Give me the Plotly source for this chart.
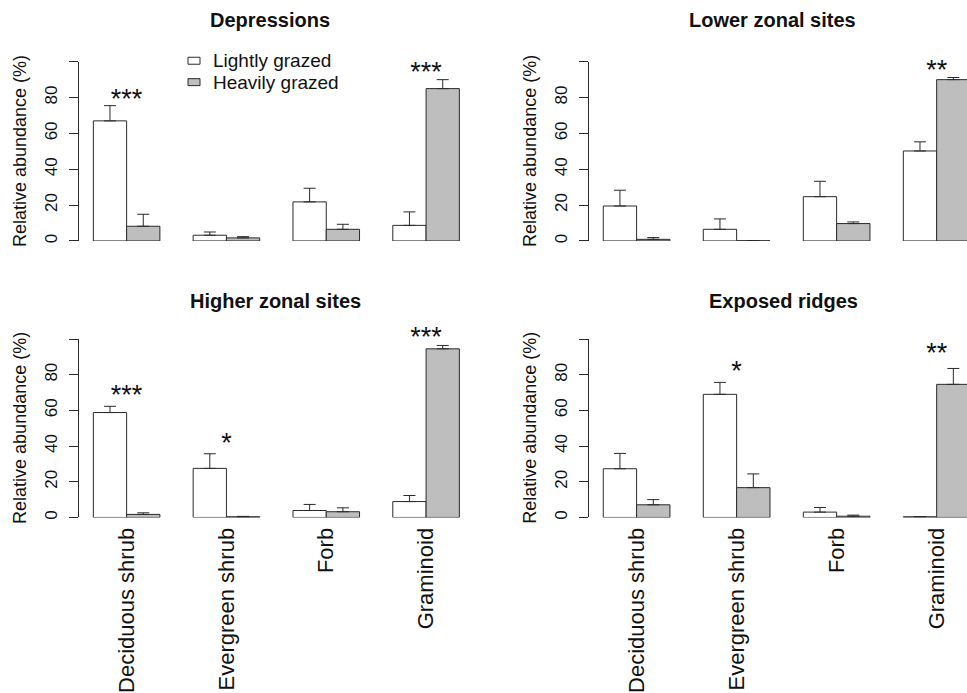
import plotly.graph_objects as go

# ---------------- data ----------------
categories = ["Deciduous shrub", "Evergreen shrub", "Forb", "Graminoid"]
panel_titles = ["Depressions", "Lower zonal sites", "Higher zonal sites", "Exposed ridges"]
legend_labels = ["Lightly grazed", "Heavily grazed"]
y_ticks = [0, 20, 40, 60, 80, 100]
y_ticktext = ["0", "20", "40", "60", "80", ""]

dep_light = [67.0, 3.2, 21.8, 8.7]
dep_light_se = [8.5, 1.8, 7.6, 7.5]
dep_heavy = [8.2, 1.7, 6.5, 85.0]
dep_heavy_se = [6.7, 0.7, 2.8, 5.0]
dep_stars = ["***", "", "", "***"]
dep_star_y = [78.0, None, None, 93.0]

low_light = [19.5, 6.5, 24.7, 50.2]
low_light_se = [8.8, 5.8, 8.6, 5.1]
low_heavy = [0.9, 0.1, 9.7, 90.0]
low_heavy_se = [1.0, 0.0, 0.9, 1.2]
low_stars = ["", "", "", "**"]
low_star_y = [None, None, None, 94.3]

high_light = [58.8, 27.5, 3.9, 8.9]
high_light_se = [3.5, 8.2, 3.4, 3.4]
high_heavy = [1.7, 0.4, 3.2, 94.5]
high_heavy_se = [0.9, 0.2, 2.2, 1.9]
high_stars = ["***", "*", "", "***"]
high_star_y = [67.5, 40.4, None, 100.0]

exp_light = [27.3, 69.0, 3.0, 0.4]
exp_light_se = [8.6, 6.7, 2.6, 0.1]
exp_heavy = [7.1, 16.7, 0.7, 74.6]
exp_heavy_se = [2.9, 7.7, 0.6, 8.9]
exp_stars = ["", "*", "", "**"]
exp_star_y = [None, 81.0, None, 90.8]

# ---------------- layout helpers ----------------
W, H = 967, 693
FONT = "Liberation Sans, Arial, Helvetica, sans-serif"
LINE = "#2a2a2a"
GRAY = "#BEBEBE"


def px_x(p):
    return p / W


def px_y(p):
    return (H - p) / H


panels = [
    (dep_light, dep_light_se, dep_heavy, dep_heavy_se, dep_stars, dep_star_y),
    (low_light, low_light_se, low_heavy, low_heavy_se, low_stars, low_star_y),
    (high_light, high_light_se, high_heavy, high_heavy_se, high_stars, high_star_y),
    (exp_light, exp_light_se, exp_heavy, exp_heavy_se, exp_stars, exp_star_y),
]

# plot-area pixel boxes (x0, x1, y_top(100), y_bottom(0))
boxes = [
    (78.7, 474.0, 62.0, 242.0),
    (588.6, 967.0, 62.0, 242.0),
    (78.7, 474.0, 340.5, 519.7),
    (588.6, 967.0, 340.5, 519.7),
]
x_ranges = [[0.56, 12.44], [0.56, 11.91], [0.56, 12.44], [0.56, 11.91]]

fig = go.Figure()

n = len(categories)
pos_light = [3 * i + 1.5 for i in range(n)]
pos_heavy = [3 * i + 2.5 for i in range(n)]
pos_center = [3 * i + 2 for i in range(n)]

for k, (lm, lse, hm, hse, st, sty) in enumerate(panels):
    xa = "x" if k == 0 else f"x{k+1}"
    ya = "y" if k == 0 else f"y{k+1}"
    for vals, se, pos, fill in ((lm, lse, pos_light, "white"), (hm, hse, pos_heavy, GRAY)):
        fig.add_trace(go.Bar(
            x=pos, y=vals, width=1, xaxis=xa, yaxis=ya,
            marker=dict(color=fill, line=dict(color=LINE, width=1)),
            error_y=dict(type="data", array=se, arrayminus=[0] * n, symmetric=False,
                         color=LINE, thickness=1, width=6),
            cliponaxis=False, showlegend=False, hoverinfo="skip",
        ))
    sx = [pos_center[i] for i in range(n) if st[i]]
    sy = [sty[i] for i in range(n) if st[i]]
    stxt = [st[i] for i in range(n) if st[i]]
    fig.add_trace(go.Scatter(
        x=sx, y=sy, text=stxt, mode="text", textposition="middle center",
        textfont=dict(size=27, color="#111", family=FONT),
        xaxis=xa, yaxis=ya, cliponaxis=False, showlegend=False, hoverinfo="skip",
    ))

layout = dict(
    width=W, height=H, margin=dict(l=0, r=0, t=0, b=0),
    paper_bgcolor="white", plot_bgcolor="white",
    barmode="overlay", showlegend=False,
    font=dict(family=FONT, color="#111"),
)

annotations = []
shapes = []
for k, (x0, x1, yt, yb) in enumerate(boxes):
    xs = "xaxis" if k == 0 else f"xaxis{k+1}"
    ys = "yaxis" if k == 0 else f"yaxis{k+1}"
    ya = "y" if k == 0 else f"y{k+1}"
    xa = "x" if k == 0 else f"x{k+1}"
    bottom = k >= 2
    layout[xs] = dict(
        domain=[px_x(x0), min(1.0, px_x(x1))], range=x_ranges[k], anchor=ya,
        showline=False, showgrid=False, zeroline=False, ticks="",
        tickvals=pos_center, ticktext=categories, tickangle=-90,
        showticklabels=bottom, tickfont=dict(size=22, color="#111", family=FONT),
        ticklabelstandoff=5, fixedrange=True,
    )
    layout[ys] = dict(
        domain=[px_y(yb), px_y(yt)], range=[0, 100], anchor=xa,
        showline=True, linecolor=LINE, linewidth=1, showgrid=False, zeroline=False,
        ticks="outside", ticklen=9, tickcolor=LINE, tickwidth=1,
        tickvals=y_ticks, ticktext=y_ticktext, tickangle=-90,
        tickfont=dict(size=17, color="#111", family=FONT),
        ticklabelstandoff=5, fixedrange=True,
    )
    # axis title
    annotations.append(dict(
        text="Relative abundance (%)", textangle=-90, showarrow=False,
        xref="paper", yref="paper", x=px_x(x0 - 58), y=px_y((yt + yb) / 2),
        xanchor="center", yanchor="middle",
        font=dict(size=18, color="#111", family=FONT),
    ))

title_pos = [(270, 20.5), (772, 20.5), (275, 302.5), (783, 302.5)]
for t, (tx, ty) in zip(panel_titles, title_pos):
    annotations.append(dict(
        text=f"<b>{t}</b>", showarrow=False, xref="paper", yref="paper",
        x=px_x(tx), y=px_y(ty), xanchor="center", yanchor="middle",
        font=dict(size=20, color="#111", family=FONT),
    ))

# legend (decorative key)
leg_rows = [61.0, 82.5]
for lab, fill, ry in zip(legend_labels, ["white", GRAY], leg_rows):
    shapes.append(dict(
        type="rect", xref="paper", yref="paper",
        x0=px_x(188), x1=px_x(200), y0=px_y(ry + 3.5), y1=px_y(ry - 3.5),
        fillcolor=fill, line=dict(color=LINE, width=1),
    ))
    annotations.append(dict(
        text=lab, showarrow=False, xref="paper", yref="paper",
        x=px_x(212), y=px_y(ry), xanchor="left", yanchor="middle",
        borderpad=0,
        font=dict(size=19, color="#111", family=FONT),
    ))

layout["annotations"] = annotations
layout["shapes"] = shapes
fig.update_layout(**layout)

fig.write_html("out.html")
